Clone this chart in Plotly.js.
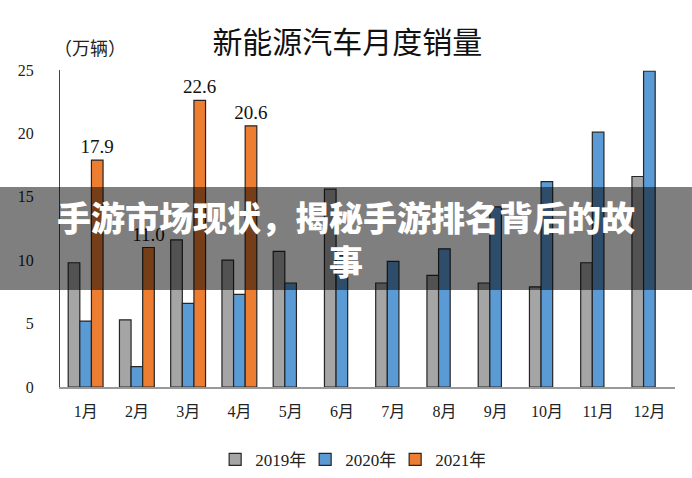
<!DOCTYPE html>
<html>
<head>
<meta charset="utf-8">
<script src="https://cdn.plot.ly/plotly-3.0.1.min.js"></script>
<style>html,body{margin:0;padding:0;background:#fff;}#chart{width:692px;height:478px;}</style>
</head>
<body>
<div id="chart"></div>
<script>
const months = ['1月','2月','3月','4月','5月','6月','7月','8月','9月','10月','11月','12月'];
const sales2019 = [9.8, 5.3, 11.6, 10.0, 10.7, 15.6, 8.2, 8.8, 8.2, 7.9, 9.8, 16.6];
const sales2020 = [5.2, 1.6, 6.6, 7.3, 8.2, 10.4, 9.9, 10.9, 14.2, 16.2, 20.1, 24.9];
const months2021 = ['1月','2月','3月','4月'];
const sales2021 = [17.9, 11.0, 22.6, 20.6];
const seriesNames = ['2019年','2020年','2021年'];
const overlayText = '手游市场现状，揭秘手游排名背后的故<br>事';

const serif = '"Liberation Serif", "DejaVu Serif", "Noto Sans CJK SC", serif';
const line = {color: '#262626', width: 1.2};

const traces = [
  {type:'bar', name: seriesNames[0], x: months, y: sales2019, marker:{color:'#A5A5A5', line: line}, hoverinfo:'none'},
  {type:'bar', name: seriesNames[1], x: months, y: sales2020, marker:{color:'#5B9BD5', line: line}, hoverinfo:'none'},
  {type:'bar', name: seriesNames[2], x: months2021, y: sales2021, marker:{color:'#ED7D31', line: line},
   text: sales2021.map(v => v.toFixed(1)), textposition:'outside', cliponaxis:false, constraintext:'none',
   textfont:{family: serif, size: 19, color:'#111'}, hoverinfo:'none'}
];

const layout = {
  width: 692, height: 478,
  margin: {l: 60, r: 17, t: 70, b: 91},
  paper_bgcolor: '#fff', plot_bgcolor: '#fff',
  barmode: 'group', bargap: 0.32, bargroupgap: 0,
  title: {text: '新能源汽车月度销量', x: 0.502, xanchor: 'center', y: 0.912, yanchor: 'middle', yref: 'container',
          font: {family: '"Noto Sans CJK SC", sans-serif', size: 30, color: '#111'}},
  xaxis: {categoryorder: 'array', categoryarray: months, showline: true, linecolor: '#999', linewidth: 1.5,
          showgrid: false, zeroline: false, ticks: '', ticklabelstandoff: 9, automargin: false,
          tickfont: {family: serif, size: 16, color: '#222'}},
  yaxis: {range: [0, 25], dtick: 5, showline: true, linecolor: '#444', linewidth: 1, automargin: false,
          showgrid: false, zeroline: false, ticks: '', ticklabelstandoff: 22,
          tickfont: {family: serif, size: 16, color: '#222'}},
  showlegend: true,
  legend: {orientation: 'h', xref: 'container', yref: 'container', x: 0.506, xanchor: 'center', y: 0.038, yanchor: 'middle',
           font: {family: serif, size: 17, color: '#222'}, itemwidth: 30, tracegroupgap: 0,
           entrywidth: 45, entrywidthmode: 'pixels'},
  annotations: [
    {text: '（万辆）', xref: 'paper', yref: 'paper', x: 0.049, y: 1.0726, xanchor: 'center', yanchor: 'middle',
     showarrow: false, font: {family: '"Noto Sans CJK SC", sans-serif', size: 18, color: '#222'}},
    {text: overlayText, xref: 'paper', yref: 'paper', x: 0.465, y: 0.468, xanchor: 'center', yanchor: 'middle',
     showarrow: false, align: 'center',
     font: {family: '"Noto Sans CJK SC", sans-serif', size: 34, color: '#fff', weight: 900}}
  ],
  shapes: [
    {type: 'rect', xref: 'paper', yref: 'paper', x0: -0.0976, x1: 1.0276, y0: 0.306, y1: 0.631,
     fillcolor: 'rgba(0,0,0,0.5)', line: {width: 0}, layer: 'above'}
  ]
};

Plotly.newPlot('chart', traces, layout, {staticPlot: true, displayModeBar: false});
</script>
</body>
</html>
